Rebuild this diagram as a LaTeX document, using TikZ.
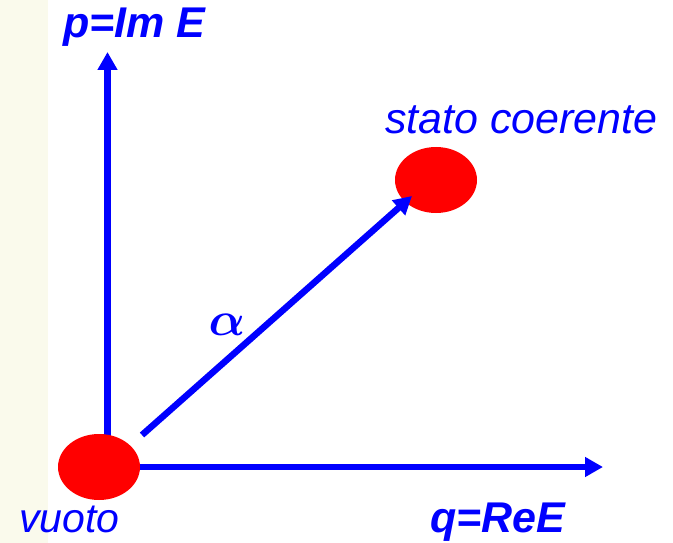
\documentclass[tikz,border=0pt]{standalone}
\usepackage{fontspec}
\setmainfont{Liberation Sans}
\usetikzlibrary{arrows.meta,shapes.geometric}
\definecolor{axisblue}{RGB}{0,0,255}
\definecolor{dotred}{RGB}{255,0,0}
\definecolor{paper}{RGB}{250,250,236}
\tikzset{
  axis/.style={draw=axisblue, line width=6.5pt, -{Triangle[length=18pt,width=19pt]}},
  statedot/.style={ellipse, fill=dotred, minimum width=82pt, minimum height=66pt, inner sep=0pt},
  lbl/.style={text=axisblue, inner sep=0pt, anchor=base west, font=\fontsize{41}{44}\selectfont\itshape},
  axlbl/.style={lbl, font=\fontsize{43}{46}\selectfont\bfseries\itshape},
}
\begin{document}
\begin{tikzpicture}[x=1pt,y=-1pt]
\useasboundingbox (0,0) rectangle (673,543);
\fill[paper] (0,0) rectangle (48,543);
% axes (drawn beneath the vacuum dot)
\coordinate (origin) at (107.5,467);
\coordinate (ptip) at (107.5,52);
\coordinate (qtip) at (603,467);
\draw[axis] (origin) -- (ptip);
\draw[axis] (origin) -- (qtip);
% dots
\node[statedot] (vuoto) at (99,467) {};
\node[statedot] (coer) at (436,180) {};
% displacement arrow
\coordinate (astart) at (142,435);
\coordinate (aend) at (412,196);
\draw[axis] (astart) -- (aend);
% labels
\node[axlbl] (plabel) at (63,38) {p=Im E};
\node[axlbl] (qlabel) at (430,532) {q=ReE};
\node[lbl] (vlabel) at (19,532) {vuoto};
\node[lbl, font=\fontsize{43}{46}\selectfont\itshape] (slabel) at (385,134) {stato coerente};
\node[text=axisblue, inner sep=0pt] (alpha) at (227,324.5) {\scalebox{4.8}{\boldmath$\alpha$}};
\end{tikzpicture}
\end{document}
